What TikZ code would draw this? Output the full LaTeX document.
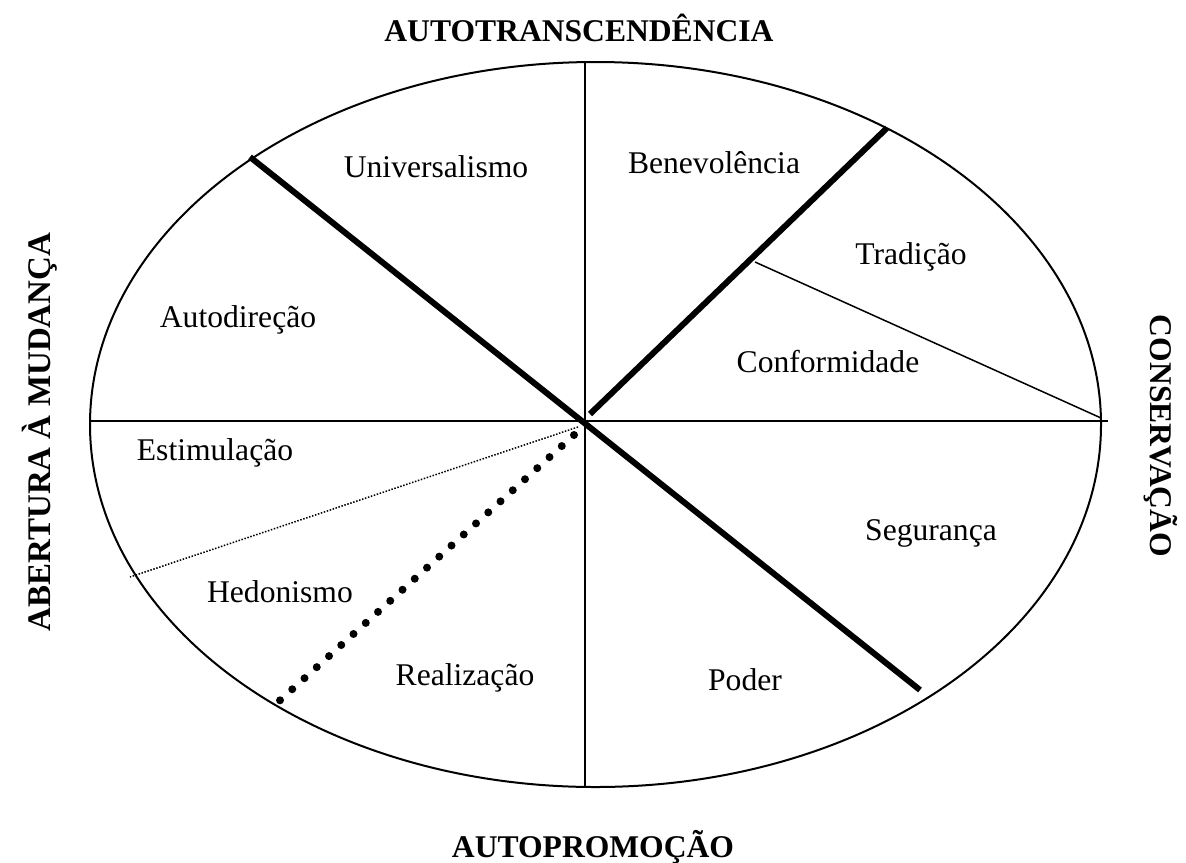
\documentclass[tikz,border=0pt]{standalone}
\usepackage{fontspec}
\setmainfont{Liberation Serif}
\begin{document}
\begin{tikzpicture}[x=0.5pt, y=-0.5pt,
  valor/.style={anchor=base, inner sep=0pt},
  eixo/.style={anchor=base, inner sep=0pt, font=\bfseries},
  grossa/.style={line width=3pt},
  ]

  \fontsize{15.8}{19}\selectfont

  \newcommand\CX{595.5};
  \newcommand\CY{424.5};
  \newcommand\RX{505.5};
  \newcommand\RY{362.5};

  \useasboundingbox (0,0) rectangle (1186,862);

  \coordinate (O) at (585,421);
  \coordinate (topo) at (585,62);
  \coordinate (base) at (585,787);
  \coordinate (esq) at (90,421);
  \coordinate (dir) at (1108,421);

  % circulo de valores
  \draw[line width=1pt] (\CX,\CY) ellipse [x radius=\RX, y radius=\RY];
  \draw[line width=1pt] (topo) -- (base);
  \draw[line width=1pt] (esq) -- (dir);

  \coordinate (no) at (250,157);
  \coordinate (se) at (920,690);
  \coordinate (ne) at (887,128);
  \coordinate (neO) at (590,414);
  \draw[grossa] (no) -- (se);
  \draw[grossa] (neO) -- (ne);

  \coordinate (tradA) at (755,262);
  \coordinate (tradB) at (1101,418);
  \draw[line width=0.75pt] (tradA) -- (tradB);

  \coordinate (estA) at (578,427);
  \coordinate (estB) at (130,577);
  \draw[line width=0.75pt, dash pattern=on 0.75pt off 0.8pt] (estA) -- (estB);

  \coordinate (realA) at (574,435);
  \coordinate (realB) at (277,703);
  \draw[line width=4pt, line cap=round, dash pattern=on 0pt off 8.25pt] (realA) -- (realB);

  % valores
  \node[valor] (univ) at (436,177) {Universalismo};
  \node[valor] (bene) at (714,173) {Benevolência};
  \node[valor] (trad) at (911,264) {Tradição};
  \node[valor] (auto) at (238,327) {Autodireção};
  \node[valor] (conf) at (828,372) {Conformidade};
  \node[valor] (estim) at (215,460) {Estimulação};
  \node[valor] (seg) at (931,540) {Segurança};
  \node[valor] (hedo) at (280,602) {Hedonismo};
  \node[valor] (real) at (465,685) {Realização};
  \node[valor] (pod) at (745,690) {Poder};

  % dimensoes
  \node[eixo] (transc) at (579,41) {AUTOTRANSCENDÊNCIA};
  \node[eixo] (promo) at (593,857) {AUTOPROMOÇÃO};
  \node[eixo, rotate=90, font=\bfseries\fontsize{16.5}{20}\selectfont] (abert) at (50,432) {ABERTURA À MUDANÇA};
  \node[eixo, rotate=-90] (conserv) at (1150,436) {CONSERVAÇÃO};

\end{tikzpicture}
\end{document}
